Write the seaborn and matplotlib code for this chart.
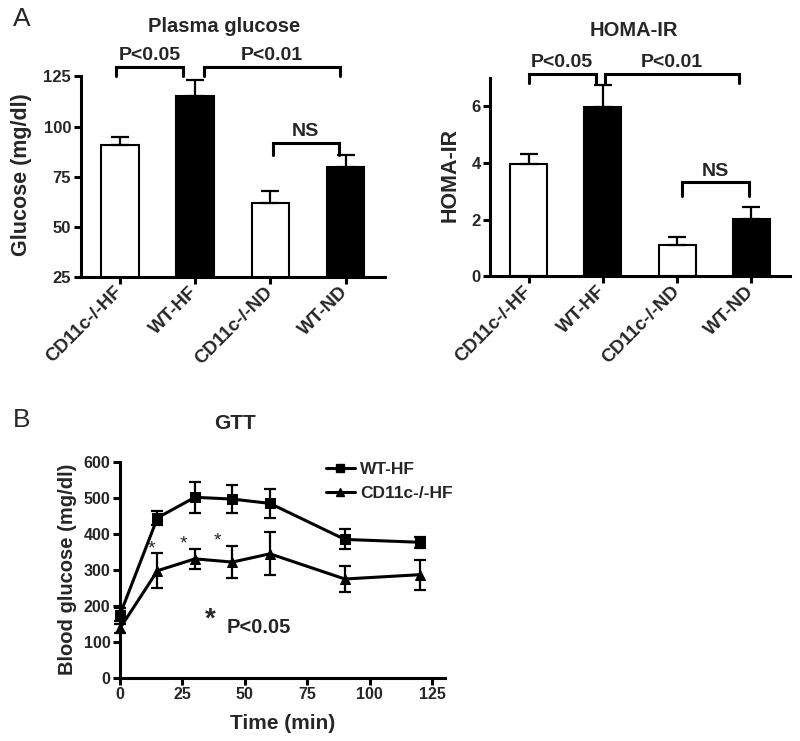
import numpy as np
import pandas as pd
import seaborn as sns
import matplotlib
matplotlib.use("Agg")
import matplotlib.pyplot as plt
from matplotlib.lines import Line2D

# ---- data ----
groups = ["CD11c-/-HF", "WT-HF", "CD11c-/-ND", "WT-ND"]
bar_colors = ["white", "black", "white", "black"]

glucose_mean = [91, 115, 62, 80]
glucose_sem = [4, 8, 6, 6]

homa_mean = [3.95, 5.98, 1.1, 2.03]
homa_sem = [0.35, 0.75, 0.3, 0.43]

gtt_time = [0, 15, 30, 45, 60, 90, 120]
wt_hf_mean = [175, 444, 501, 496, 484, 384, 376]
wt_hf_sem = [18, 20, 43, 40, 40, 28, 15]
ko_hf_mean = [137, 297, 330, 321, 344, 274, 286]
ko_hf_sem = [12, 48, 27, 45, 60, 37, 42]

star_time = [12.5, 25.5, 39]
star_value = [358, 370, 380]

sns.set_style("ticks")
plt.rcParams["font.family"] = ["Liberation Sans", "DejaVu Sans"]
plt.rcParams["font.weight"] = "bold"
plt.rcParams["axes.labelweight"] = "bold"

LW = 2.2

fig = plt.figure(figsize=(8, 7.41), dpi=100)
axL = fig.add_axes([0.101, 0.626, 0.38, 0.271])
axR = fig.add_axes([0.613, 0.627, 0.374, 0.268])
axB = fig.add_axes([0.15, 0.0855, 0.406, 0.2915])


def style_axis(ax, tick_size):
    sns.despine(ax=ax)
    for side in ["left", "bottom"]:
        ax.spines[side].set_linewidth(LW)
        ax.spines[side].set_color("black")
    ax.tick_params(axis="both", width=LW, length=5, color="black",
                   labelsize=tick_size, pad=2)
    for lab in ax.get_xticklabels() + ax.get_yticklabels():
        lab.set_fontweight("bold")


def bar_panel(ax, means, sems, ylim, yticks, ylabel, label_x, brackets):
    sns.barplot(x=groups, y=means, hue=groups, palette=bar_colors,
                edgecolor="black", linewidth=1.5, width=0.5, legend=False,
                ax=ax)
    ax.errorbar(range(len(groups)), means, yerr=[np.zeros(len(sems)), sems],
                fmt="none", ecolor="black", elinewidth=1.6, capsize=6.5,
                capthick=1.6)
    ax.set_ylim(*ylim)
    ax.set_xlim(-0.52, 3.52)
    ax.set_yticks(yticks)
    ax.set_xticks(range(len(groups)))
    style_axis(ax, 12)
    ax.set_xticklabels(groups, rotation=45, ha="right", va="center",
                       rotation_mode="anchor", fontsize=13.5,
                       fontweight="bold")
    ax.tick_params(axis="x", pad=4)
    ax.set_ylabel(ylabel, fontsize=15.5, fontweight="bold")
    ax.yaxis.set_label_coords(label_x, 0.51)
    for x0, x1, ytop, yend, txt in brackets:
        ax.plot([x0, x0, x1, x1], [yend, ytop, ytop, yend], color="black",
                lw=LW, clip_on=False, solid_joinstyle="miter")
        ax.annotate(txt, ((x0 + x1) / 2, ytop), xytext=(0, 2),
                    textcoords="offset points", ha="center", va="bottom",
                    fontsize=14, fontweight="bold", annotation_clip=False)


bar_panel(axL, glucose_mean, glucose_sem, (25, 125), [25, 50, 75, 100, 125],
          "Glucose (mg/dl)", -0.16,
          [(-0.05, 0.84, 129.6, 125, "P<0.05"),
           (1.12, 2.92, 129.6, 125, "P<0.01"),
           (2.03, 2.91, 91.7, 86, "NS")])

bar_panel(axR, homa_mean, homa_sem, (0, 7), [0, 2, 4, 6],
          "HOMA-IR", -0.1,
          [(0.0, 0.9, 7.15, 6.8, "P<0.05"),
           (1.03, 2.84, 7.15, 6.8, "P<0.01"),
           (2.07, 2.97, 3.31, 2.84, "NS")])

# ---- GTT panel ----
gtt = pd.DataFrame({
    "time": gtt_time * 2,
    "glucose": wt_hf_mean + ko_hf_mean,
    "group": ["WT-HF"] * len(gtt_time) + ["CD11c-/-HF"] * len(gtt_time),
})
sns.lineplot(data=gtt, x="time", y="glucose", hue="group", style="group",
             markers={"WT-HF": "s", "CD11c-/-HF": "^"}, dashes=False,
             palette=["black", "black"], markersize=7, linewidth=LW,
             markeredgecolor="black", legend=False, ax=axB)
for line in axB.lines:
    line.set_clip_on(False)
axB.errorbar(gtt_time, wt_hf_mean, yerr=wt_hf_sem, fmt="none",
             ecolor="black", elinewidth=1.6, capsize=4, capthick=1.6,
             clip_on=False)
axB.errorbar(gtt_time, ko_hf_mean, yerr=ko_hf_sem, fmt="none",
             ecolor="black", elinewidth=1.6, capsize=4, capthick=1.6,
             clip_on=False)
axB.set_xlim(0, 130)
axB.set_ylim(0, 600)
axB.set_xticks([0, 25, 50, 75, 100, 125])
axB.set_yticks([0, 100, 200, 300, 400, 500, 600])
style_axis(axB, 11.5)
axB.set_xlabel("Time (min)", fontsize=15, fontweight="bold")
axB.set_ylabel("Blood glucose (mg/dl)", fontsize=14.5, fontweight="bold")
axB.yaxis.set_label_coords(-0.132, 0.503)
axB.xaxis.set_label_coords(0.5, -0.168)

for t, v in zip(star_time, star_value):
    axB.text(t, v, "*", ha="center", va="center", fontsize=14,
             fontweight="normal")
axB.text(36, 160, "*", ha="center", va="center", fontsize=20,
         fontweight="bold")
axB.text(42.5, 140, "P<0.05", ha="left", va="center", fontsize=14.5,
         fontweight="bold")

handles = [
    Line2D([], [], color="black", lw=LW, marker="s", markersize=5.5),
    Line2D([], [], color="black", lw=LW, marker="^", markersize=5.5),
]
fig.legend(handles, ["WT-HF", "CD11c-/-HF"], loc="upper left",
           bbox_to_anchor=(310 / 800, 1 - 446 / 741), frameon=False,
           handlelength=1.7, handletextpad=0.3, labelspacing=0.55,
           prop={"weight": "bold", "size": 12.5})

# ---- titles and panel letters ----
fig.text(224.5 / 800, 1 - 26 / 741, "Plasma glucose", ha="center",
         va="center", fontsize=14.5, fontweight="bold")
fig.text(633.5 / 800, 1 - 30 / 741, "HOMA-IR", ha="center", va="center",
         fontsize=14.5, fontweight="bold")
fig.text(235 / 800, 1 - 424 / 741, "GTT", ha="center", va="center",
         fontsize=15, fontweight="bold")
fig.text(13 / 800, 1 - 19 / 741, "A", ha="left", va="center", fontsize=19,
         fontweight="normal")
fig.text(13 / 800, 1 - 420 / 741, "B", ha="left", va="center", fontsize=19,
         fontweight="normal")

fig.savefig("out.png", dpi=100)
